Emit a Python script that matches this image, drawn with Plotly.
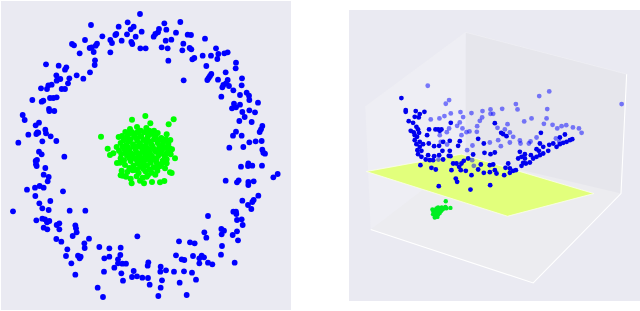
import plotly.graph_objects as go

# Left panel: values (arbitrary feature units)
outer_pts = [(420,42),(273,75),(356,80),(383,67),(401,80),(392,88),(425,95),(381,103),(407,110),(349,102),(346,105),(307,109),(331,120),(336,129),(365,122),(394,126),(397,132),(255,120),(216,132),(222,136),(291,131),(287,137),(275,142),(269,144),(281,156),(239,160),(331,157),(421,145),(437,145),(493,70),(541,66),(499,89),(477,87),(474,97),(466,102),(461,110),(528,98),(563,104),(573,105),(615,116),(497,122),(514,119),(550,131),(485,142),(503,145),(547,151),(569,144),(574,148),(648,145),(608,167),(633,167),(655,162),(673,160),(683,157),(652,177),(583,174),(577,178),(505,182),(285,181),(284,195),(138,193),(176,197),(199,202),(195,209),(270,217),(230,226),(169,226),(208,235),(250,236),(181,237),(170,242),(155,254),(145,256),(123,265),(141,267),(204,250),(185,267),(195,267),(708,188),(707,205),(619,198),(677,217),(634,222),(630,228),(626,234),(622,240),(551,241),(654,239),(726,235),(683,240),(678,250),(670,255),(667,262),(725,256),(687,258),(700,271),(740,278),(720,285),(664,290),(747,287),(170,292),(160,294),(150,294),(97,300),(130,302),(125,305),(748,300),(774,308),(702,311),(720,314),(696,325),(708,322),(147,327),(148,333),(163,333),(727,336),(748,331),(765,337),(68,345),(734,351),(74,360),(718,363),(755,366),(117,368),(107,376),(136,389),(787,378),(783,388),(779,396),(708,395),(112,397),(115,398),(109,402),(85,404),(138,400),(152,409),(699,407),(725,407),(55,428),(127,424),(169,423),(785,423),(767,424),(748,427),(730,441),(688,443),(117,455),(125,463),(787,449),(790,458),(795,461),(193,470),(111,480),(107,483),(108,493),(110,498),(745,490),(744,498),(757,497),(723,500),(786,497),(136,504),(131,524),(146,531),(143,544),(833,522),(820,532),(677,542),(716,541),(711,547),(745,546),(761,544),(745,555),(119,558),(105,563),(131,563),(81,569),(189,574),(106,588),(775,587),(761,600),(727,602),(757,606),(744,615),(151,603),(118,610),(754,627),(127,625),(146,630),(39,634),(209,632),(256,632),(700,635),(708,635),(709,642),(624,648),(109,661),(127,656),(135,658),(148,663),(141,667),(711,660),(725,658),(178,670),(170,675),(226,676),(728,675),(131,683),(142,688),(178,688),(228,685),(664,687),(672,692),(711,694),(613,697),(230,697),(665,703),(218,708),(698,705),(412,709),(619,713),(267,716),(169,717),(184,725),(714,721),(537,724),(570,727),(584,730),(666,738),(253,730),(254,744),(298,741),(328,745),(362,743),(202,748),(528,766),(198,768),(234,767),(242,770),(239,775),(328,770),(313,775),(361,765),(354,778),(354,790),(663,764),(605,767),(612,772),(579,768),(598,775),(545,778),(553,780),(598,790),(624,788),(637,793),(704,788),(214,790),(367,791),(378,791),(445,787),(443,797),(343,803),(482,800),(481,815),(498,811),(312,815),(522,815),(552,814),(401,813),(576,818),(226,824),(364,820),(411,829),(396,831),(427,833),(444,834),(486,841),(588,839),(369,842),(539,848),(449,854),(293,863),(482,863),(475,888),(560,885),(309,891)]
inner_pts = [(436,348),(396,359),(521,358),(506,373),(451,370),(303,410),(323,446),(340,460),(330,465),(350,441),(525,475),(510,517),(515,519),(493,543),(480,547),(456,546),(432,550),(395,550),(368,527),(516,448),
(390,387),(411,381),(439,384),(462,392),(500,403),(376,396),(386,401),(417,394),(433,397),(456,402),(473,399),(366,408),(381,411),(402,406),(421,409),(443,412),(467,409),(484,414),(497,418),(511,420),(356,411),(371,421),(392,418),(412,423),(431,420),(452,425),(473,428),(490,426),(505,431),
(362,429),(379,436),(399,433),(418,438),(438,434),(458,440),(478,437),(497,442),(357,452),(373,448),(388,452),(407,449),(427,453),(447,449),(467,455),(486,451),(503,456),(512,463),(364,462),(381,467),(398,464),(416,468),(436,465),(456,469),(476,466),(494,470),(351,489),(360,488),(372,481),(392,483),(410,479),(429,484),(449,480),(469,486),(488,482),(500,490),
(375,495),(400,497),(421,500),(441,496),(461,502),(480,499),(495,505),(365,512),(382,516),(398,511),(416,519),(436,514),(455,518),(472,512),(362,526),(378,530),(392,536),(410,529),(428,533),(444,525),(466,524),(420,542),(440,530),(405,510),(425,475),(440,445),(420,430),(445,405),(400,440),(470,475),(385,425),(430,440),(450,460),(410,458),(435,480),(455,435),
(422,392),(448,392),(410,398),(395,396),(478,420),(462,418),(440,424),(424,410),(408,414),(384,442),(392,460),(410,440),(420,462),(444,472),(460,478),(482,460),(476,448),(490,440),(462,448),(452,488),(430,492),(412,490),(388,474),(378,458),(368,440),(402,474),(484,492),(472,496),(448,508),(430,506),(412,508),(388,504),(362,475),(426,444),(438,456),(418,484),(500,478),(498,462),(508,444)]

# Right panel: projected positions
far_pts = [(264,257),(328,300),(318,311),(598,288),(628,274),(845,312),(528,312),(533,328),(487,326),(622,327),(452,328),(428,333),(395,339),(362,336),(333,340),(314,348),(299,355),(273,358),(370,351),(360,367),(352,377),(427,352),(420,362),(412,378),(452,341),(460,341),(503,372),(575,355),(553,364),(620,355),(612,371),(638,374),(652,385),(665,378),(679,375),(699,382),(717,385),(725,398),(368,385),(389,394),(380,396),(321,396),(328,385),(365,405),(411,395),(473,383),(495,388),(510,397),(520,410),(510,427),(475,420),(450,427),(483,438),(398,436),(540,421),(572,424),(590,412),(567,430),(542,430),(648,415),(658,425),(300,405),(303,425),(322,433),(382,450),(397,480),(402,497),(296,478)]
near_pts = [(185,294),(198,330),(198,335),(228,333),(254,335),(240,342),(237,352),(225,350),(207,363),(220,368),(230,380),(235,388),(213,392),(222,397),(225,405),(232,410),(238,398),(225,420),(240,425),(230,432),(250,432),(267,430),(240,440),(233,450),(245,452),(235,462),(245,470),(258,478),(268,388),(262,405),(287,388),(295,388),(305,388),(300,392),(333,368),(465,369),(484,398),(490,402),(500,408),(415,416),(432,430),(434,458),(452,462),(465,457),(400,463),(360,423),(355,437),(330,422),(310,425),(298,437),(283,438),(330,452),(327,467),(308,452),(298,465),(283,468),(265,465),(270,480),(280,480),(310,478),(332,468),(242,495),(275,503),(288,508),(340,490),(350,490),(365,490),(372,482),(385,475),(363,510),(358,500),(335,510),(348,535),(352,545),(415,508),(423,493),(450,495),(460,493),(432,518),(450,516),(465,510),(470,520),(493,525),(505,490),(497,503),(510,505),(520,512),(510,518),(528,510),(545,497),(550,488),(558,490),(570,487),(580,475),(590,470),(600,465),(610,460),(625,452),(628,434),(640,430),(650,440),(660,432),(670,428),(680,425),(690,420),(697,417),(675,403),(660,412),(600,430),(590,447),(573,465),(555,462),(545,470),(555,475),(535,475),(540,455),(597,452),(610,440),(297,558),(392,568),(451,555),(395,525),(378,512),(603,398)]
green_pts = [(318,603),(332,623),(278,628),(281,634),(284,640),(287,648),(285,652),(290,645),(293,650),(296,642),(300,638),(304,632),(308,628),(312,625),(317,620),(320,624),(290,625),(295,622),(300,626),(286,630),(292,632),(298,630),(306,622),(280,642),(288,636)]

left_wall = [(378,97),(77,320),(93,688),(378,500)]
right_wall = [(378,97),(860,222),(843,580),(378,500)]
floor = [(93,688),(580,848),(843,580),(378,470)]
plane = [(80,514),(365,462),(762,580),(503,648),(80,514)]
box_edges = [(93,688),(580,848),(843,580),(860,222)]
top_edges = [(77,320),(378,97),(860,222)]

BG = "#EAEAF2"
def xs(p): return [q[0] for q in p]
def ys(p): return [q[1] for q in p]

fig = go.Figure()

def poly(p, fill):
    fig.add_trace(go.Scatter(x=xs(p), y=ys(p), mode="lines", fill="toself", fillcolor=fill,
                             line=dict(width=0), xaxis="x2", yaxis="y2", hoverinfo="skip"))

# left panel
fig.add_trace(go.Scatter(x=xs(outer_pts), y=ys(outer_pts), mode="markers",
                         marker=dict(color="#0000FF", size=5.8, line=dict(width=0))))
fig.add_trace(go.Scatter(x=xs(inner_pts), y=ys(inner_pts), mode="markers",
                         marker=dict(color="#00FF00", size=6, line=dict(width=0))))

# right panel
poly(left_wall, "#EEEEF4")
poly(right_wall, "#E6E6EC")
poly(floor, "#ECECF0")
fig.add_trace(go.Scatter(x=xs(box_edges), y=ys(box_edges), mode="lines", line=dict(color="#FFFFFF", width=1.1),
                         xaxis="x2", yaxis="y2"))
fig.add_trace(go.Scatter(x=xs(top_edges), y=ys(top_edges), mode="lines", line=dict(color="#EFEFF4", width=0.8),
                         xaxis="x2", yaxis="y2"))
fig.add_trace(go.Scatter(x=xs(plane), y=ys(plane), mode="lines", fill="toself", fillcolor="#E2FF7C",
                         line=dict(color="#FBFFE8", width=0.8), xaxis="x2", yaxis="y2"))
fig.add_trace(go.Scatter(x=xs(green_pts), y=ys(green_pts), mode="markers",
                         marker=dict(color="#00EE22", size=4.4, line=dict(width=0)), xaxis="x2", yaxis="y2"))
fig.add_trace(go.Scatter(x=xs(far_pts), y=ys(far_pts), mode="markers",
                         marker=dict(color="rgba(0,0,255,0.5)", size=4.8, line=dict(width=0)), xaxis="x2", yaxis="y2"))
fig.add_trace(go.Scatter(x=xs(near_pts), y=ys(near_pts), mode="markers",
                         marker=dict(color="#0000EE", size=4.8, line=dict(width=0)), xaxis="x2", yaxis="y2"))

hidden = dict(visible=False, showgrid=False, zeroline=False, fixedrange=True)
H, W = 311, 640
fig.update_layout(
    width=W, height=H, margin=dict(l=0, r=0, t=0, b=0), showlegend=False,
    paper_bgcolor="#FFFFFF", plot_bgcolor=BG,
    xaxis=dict(domain=[1/W, 291/W], range=[3, 873], **hidden),
    yaxis=dict(domain=[1-310/H, 1-1/H], range=[930, 3], **hidden),
    xaxis2=dict(domain=[349/W, 1], range=[28, 900], anchor="y2", **hidden),
    yaxis2=dict(domain=[1-301/H, 1-10/H], range=[902, 30], anchor="x2", **hidden),
)
fig.write_html("out.html", config=dict(displayModeBar=False),
               post_script="document.body.style.margin='0';document.documentElement.style.overflow='hidden';")
